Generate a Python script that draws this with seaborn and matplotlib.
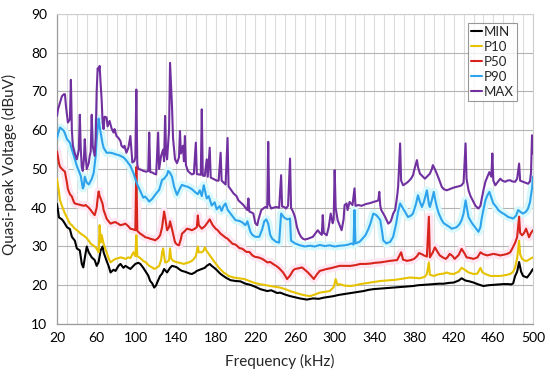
import matplotlib
matplotlib.use("Agg")
import matplotlib.pyplot as plt
import seaborn as sns
import pandas as pd
from matplotlib.ticker import MultipleLocator

# ---------------- data ----------------
MIN_F = [20, 22, 25, 27, 30, 33, 35, 38, 40, 43,
         45, 46.5, 48, 50, 52, 55, 58, 60, 62, 64,
         66, 67, 70, 72, 74, 77, 79, 82, 84, 87,
         89, 92, 94, 97, 99, 102, 104, 107, 109, 112,
         114, 116, 118, 120, 121, 124, 126, 128, 131, 134,
         136, 139, 141, 144, 146, 149, 151, 154, 156, 159,
         161, 164, 166, 169, 171, 174, 176, 178, 180, 185,
         190, 195, 200, 205, 210, 215, 220, 225, 232, 236,
         242, 245, 250, 255, 260, 265, 272, 278, 284, 289,
         294, 299, 304, 309, 314, 319, 324, 329, 334, 339,
         344, 349, 354, 359, 364, 369, 374, 379, 384, 390,
         395, 400, 405, 410, 415, 420, 425, 428, 432, 436,
         440, 445, 450, 455, 460, 465, 470, 475, 478, 480,
         482, 484, 486, 488, 490, 494, 497, 500]
MIN_V = [41, 37.5, 37, 36.3, 35, 34.5, 32.5, 31.5, 29.5, 29,
         25.5, 24.6, 27, 30, 28.5, 27.2, 26.5, 25, 26, 29,
         30, 28.5, 26.3, 25, 23.3, 24, 23.7, 25, 25.5, 24.5,
         25, 24.5, 24.2, 25, 25.5, 25.8, 25.5, 24.5, 23.7, 22.5,
         21.1, 20.5, 19.4, 20, 20.7, 22.4, 23, 24.2, 23.3, 24.5,
         25, 24.8, 24.6, 24, 23.7, 23.5, 23.3, 23, 22.9, 23.3,
         23.7, 24, 24.2, 24.5, 25, 25.5, 25, 24.6, 24.2, 22.9,
         22, 21.3, 21.1, 21, 20.4, 20.1, 19.6, 19, 18.5, 18.7,
         18, 18.1, 17.6, 17.2, 16.9, 16.6, 16.3, 16.6, 16.5, 16.8,
         17, 17.2, 17.5, 17.7, 17.9, 18.1, 18.3, 18.5, 18.8, 19,
         19.1, 19.2, 19.3, 19.4, 19.5, 19.6, 19.7, 19.8, 20, 20.1,
         20.2, 20.3, 20.4, 20.4, 20.6, 20.7, 21.2, 21.8, 21.2, 21,
         20.7, 20.2, 19.8, 20, 20.1, 20.2, 20.3, 20.3, 20.2, 20.5,
         22.4, 23.5, 26, 23.5, 22.4, 22, 23, 24.2]

P10_F = [20, 22, 23, 25, 28, 30, 33, 35, 38, 41,
         44, 47, 49, 52, 54, 57, 59, 61, 62, 63,
         64, 65, 67, 70, 72, 74, 77, 79, 82, 84,
         87, 89, 92, 94, 97, 99, 100, 101, 104, 107,
         110, 113, 116, 118, 121, 123, 125, 126, 127, 129,
         131, 133, 134, 135, 137, 140, 142, 145, 148, 150,
         153, 156, 158, 160, 162, 163, 166, 168, 169, 171,
         173, 176, 178, 181, 183, 186, 188, 191, 193, 198,
         203, 209, 214, 218, 224, 229, 235, 240, 245, 250,
         255, 260, 265, 270, 275, 280, 285, 290, 295, 299,
         301, 303, 305, 310, 316, 321, 326, 331, 336, 341,
         346, 351, 356, 361, 366, 371, 376, 381, 386, 391,
         393, 395, 396, 400, 403, 406, 410, 413, 416, 420,
         425, 428, 430, 435, 440, 444, 447, 449, 453, 457,
         462, 467, 472, 477, 480, 482, 484, 486, 487, 489,
         492, 494, 497, 500]
P10_V = [47.5, 44, 42, 40.5, 38.5, 37.5, 35.9, 35.5, 34.6, 34,
         33.3, 32.8, 32.4, 31.5, 30.7, 30.2, 29.8, 29, 28.5, 35.5,
         31, 33, 30.7, 28.5, 27, 25.9, 26.5, 26.8, 27, 27.2,
         27, 26.8, 27.2, 27, 28.5, 27.5, 32.9, 27.5, 27, 26.3,
         25.8, 25, 24.6, 24.2, 24.6, 25, 26.5, 28.5, 29.5, 25.9,
         26, 26.5, 29.5, 27, 26.3, 26, 25.9, 25.7, 25.5, 25.7,
         25.9, 26.3, 26.8, 27.5, 30, 28.5, 28.5, 29, 29.8, 28.8,
         28.1, 27, 26.3, 25.3, 24.6, 23.8, 23.3, 22.8, 22.4, 22,
         21.8, 21.6, 21.1, 20.7, 20.3, 20.1, 19.8, 19.6, 19.4, 19,
         18.5, 18.1, 17.7, 17.4, 17.2, 17.6, 18.1, 18.3, 18.5, 19.5,
         21.6, 20, 20.3, 19.9, 19.8, 20, 20.3, 20.5, 20.7, 20.9,
         21.1, 21.2, 21.3, 21.4, 21.6, 21.8, 22, 21.9, 21.8, 22.2,
         22.9, 25.9, 22.7, 22.4, 22.7, 22.9, 23, 23.3, 23, 22.9,
         23.5, 24.5, 24.2, 23.3, 22.9, 23, 24.5, 23.3, 22.8, 22.4,
         22.4, 22.4, 22.6, 22.9, 23.5, 24.6, 27, 31.5, 28, 26.8,
         26.3, 26.3, 26.8, 27.2]

P50_F = [20, 22, 23, 25, 28, 30, 31, 33, 35, 37,
         38, 41, 44, 47, 49, 52, 54, 56, 58, 60,
         61, 62, 63, 64, 66, 67, 69, 70, 72, 74,
         77, 79, 82, 84, 87, 89, 92, 94, 97, 99,
         100, 101, 104, 107, 109, 112, 114, 117, 119, 122,
         124, 126, 128, 129, 131, 133, 134, 136, 139, 141,
         143, 145, 146, 149, 151, 154, 156, 159, 161, 162,
         163, 166, 169, 171, 174, 177, 180, 182, 185, 187,
         190, 192, 195, 197, 200, 204, 207, 211, 214, 217,
         220, 223, 227, 230, 232, 235, 239, 241, 244, 248,
         250, 252, 255, 258, 260, 264, 267, 270, 273, 276,
         279, 282, 285, 289, 292, 296, 299, 302, 305, 310,
         316, 321, 326, 331, 336, 341, 346, 351, 356, 360,
         363, 367, 369, 373, 377, 380, 383, 385, 388, 390,
         393, 395, 396, 399, 401, 404, 406, 409, 412, 414,
         416, 419, 421, 425, 428, 431, 433, 437, 440, 444,
         447, 450, 454, 457, 460, 464, 467, 471, 474, 477,
         479, 482, 484, 486, 487, 489, 491, 493, 496, 498,
         500]
P50_V = [54.5, 51.5, 50.6, 50, 49.3, 46.5, 44.8, 43.5, 42.9, 41.5,
         41.1, 40.9, 40.7, 40.5, 40.7, 40, 39.4, 38.7, 38.1, 40,
         42.4, 44.2, 43, 42.4, 41, 39.4, 38, 37.2, 36.5, 35.9,
         36.2, 36.3, 35.8, 35.5, 35.7, 35.9, 35.2, 34.6, 34.4, 34.2,
         50.5, 34, 33.3, 32.8, 32.4, 32.2, 32, 31.8, 31.6, 32.2,
         32.9, 35, 39, 37.7, 34.2, 35, 36.5, 34.5, 31.1, 30.5,
         30.3, 32, 33.3, 34, 34.6, 34.4, 34.2, 34.6, 35, 38,
         35.5, 34.6, 35.2, 35.9, 37, 35.5, 34.6, 34.2, 33.3, 32.9,
         32.3, 32, 31.2, 30.7, 30.5, 29.6, 29.4, 28.6, 28.6, 27.7,
         27.3, 27.2, 26.8, 26.3, 25.9, 26, 25.3, 25, 24.4, 23.3,
         22.5, 21.6, 22.5, 23.8, 24.2, 24.4, 24.6, 24, 23.3, 22.5,
         21.6, 22.8, 23.7, 24, 24.2, 24.4, 24.6, 24.8, 25, 25,
         25, 25.2, 25.5, 25.5, 25.6, 25.8, 25.9, 26.1, 26.3, 26.4,
         26.5, 28.5, 26.6, 26.3, 26.5, 26.8, 27.5, 28.3, 28, 27.7,
         27.4, 37.7, 27.2, 28.5, 29.8, 28.5, 27.7, 27.2, 26.8, 27.3,
         28.1, 27.5, 26.8, 27.8, 29.4, 28.2, 27.2, 27, 26.8, 27.2,
         28.5, 28, 27.7, 27.9, 28.1, 27.9, 27.7, 27.9, 28.1, 28.5,
         29.4, 31, 32.4, 37.7, 33.5, 32.9, 33.5, 34.6, 32.4, 33.5,
         34.2]

P90_F = [20, 21, 23, 25, 27, 29, 30, 33, 35, 37,
         40, 42, 44, 46, 47, 48, 50, 52, 55, 57,
         59, 60, 62, 63, 64, 66, 67, 70, 74, 77,
         79, 82, 84, 87, 89, 92, 94, 97, 99, 101,
         104, 107, 109, 113, 116, 118, 121, 123, 126, 128,
         131, 132, 134, 136, 138, 141, 144, 146, 149, 152,
         156, 159, 162, 164, 166, 168, 171, 173, 176, 179,
         181, 184, 186, 188, 190, 192, 195, 197, 200, 204,
         207, 210, 212, 215, 217, 220, 224, 227, 229, 231,
         233, 235, 237, 241, 244, 246, 249, 252, 255, 256,
         260, 265, 270, 275, 280, 285, 290, 295, 300, 305,
         310, 314, 317, 319, 320, 321, 325, 328, 331, 334,
         336, 339, 342, 344, 346, 348, 349, 352, 356, 359,
         362, 364, 366, 369, 372, 374, 377, 379, 382, 384,
         386, 388, 390, 393, 395, 396, 398, 400, 401, 403,
         405, 408, 410, 413, 416, 418, 421, 423, 426, 428,
         430, 432, 434, 435, 438, 440, 443, 445, 447, 448,
         450, 452, 454, 456, 458, 460, 463, 465, 468, 470,
         473, 475, 478, 480, 483, 485, 488, 490, 493, 495,
         497, 499, 500]
P90_V = [58, 59, 60.7, 60.3, 59.8, 58.5, 57.7, 56.8, 55, 53.4,
         50.8, 49.5, 48.2, 45, 45.5, 48, 46.5, 46, 47.4, 49,
         53.4, 57.7, 63, 61, 59.4, 56.5, 55.5, 54.2, 54.2, 54,
         53.8, 53.6, 53.4, 53, 52.5, 51.5, 50.8, 49, 47.4, 46,
         44.3, 42.6, 42.9, 41.6, 42.3, 43, 44, 44.6, 47.2, 47.5,
         48.5, 49.5, 49, 48, 45.5, 43.3, 45, 45.9, 45.6, 45.4,
         44.8, 44.1, 43.5, 44.5, 43, 45.8, 42.4, 43, 40.6, 41.4,
         39.6, 40.4, 39.2, 40.5, 41.1, 39.5, 38.5, 37.8, 36.8, 36.6,
         36.2, 35.5, 36.5, 33.8, 33, 32.5, 32.5, 34.5, 36.5, 37,
         35.9, 33, 32, 31.2, 31, 38.5, 37.5, 37, 37.2, 31.5,
         30.8, 30.3, 30, 30.2, 30, 30.4, 30.1, 30.3, 30, 30.2,
         30.3, 30.5, 30.8, 30.5, 39.4, 30.8, 31.2, 32, 32.9, 34.5,
         35.9, 38.5, 38.1, 37.5, 36.8, 33.5, 31.6, 30.8, 31.2, 32.5,
         35.9, 39, 41.1, 39.8, 38.5, 37.6, 38, 38.5, 41, 43.2,
         41.5, 40.2, 41.5, 44.5, 41, 40.2, 42, 44.1, 42.5, 40.2,
         38.5, 36.8, 36, 35.5, 35, 34.6, 34.8, 35, 35.8, 36.8,
         38.5, 41.9, 39, 37.6, 36.2, 35.5, 34.5, 33.8, 35, 36.8,
         39.5, 41.9, 43.2, 44.1, 42.6, 41.1, 40.2, 39.4, 38.8, 38.5,
         38, 37.6, 37.4, 37.2, 38, 39.4, 38.8, 38.5, 39, 39.8,
         41.5, 45, 48]

MAX_F = [20, 21, 23, 25, 27, 28, 29, 31, 33, 34,
         35, 36, 38, 40, 42, 43, 44, 45, 46, 47,
         48, 49, 50, 52, 53, 54, 55, 56, 58, 59,
         60, 61, 62, 63, 64, 65, 66, 67, 68, 70,
         71, 73, 75, 77, 78, 80, 82, 84, 85, 87,
         88, 90, 92, 94, 95, 96, 98, 99, 100, 101,
         102, 105, 107, 110, 112, 113, 114, 116, 118, 120,
         122, 123, 125, 127, 128, 129, 130, 131, 133, 134,
         135, 136, 137, 139, 141, 143, 144, 145, 147, 148,
         149, 150, 152, 154, 156, 158, 160, 161, 163, 165,
         166, 167, 169, 171, 172, 174, 175, 178, 181, 183,
         185, 186, 188, 190, 192, 193, 195, 198, 201, 203,
         206, 208, 210, 212, 213, 214, 216, 218, 220, 222,
         223, 225, 226, 228, 230, 232, 233, 234, 236, 238,
         241, 244, 246, 247, 249, 251, 253, 255, 256, 258,
         260, 262, 264, 266, 268, 270, 273, 276, 278, 281,
         283, 285, 287, 288, 289, 292, 294, 296, 298, 299,
         300, 301, 303, 305, 307, 309, 310, 312, 313, 315,
         318, 320, 321, 324, 327, 329, 332, 334, 337, 339,
         342, 344, 345, 346, 347, 349, 351, 353, 354, 356,
         357, 359, 361, 363, 364, 366, 367, 369, 372, 374,
         377, 379, 381, 383, 384, 386, 389, 391, 393, 396,
         398, 399, 401, 403, 405, 408, 410, 413, 415, 418,
         420, 423, 426, 428, 430, 432, 433, 435, 437, 440,
         442, 445, 447, 448, 450, 452, 454, 456, 458, 459,
         460, 462, 464, 467, 469, 472, 474, 477, 479, 482,
         484, 486, 487, 490, 492, 495, 497, 498, 499, 500]
MAX_V = [63.7, 65.4, 67.1, 68.8, 69.3, 69.3, 66.3, 62, 62.8, 73,
         60, 56, 54, 52.5, 55, 64, 55, 50.5, 49.5, 52,
         57.7, 53, 50, 51.5, 53.4, 54.5, 64, 56, 53.4, 58,
         70, 76, 75.5, 76.6, 72, 68, 62, 60.3, 63.5, 63.3,
         61, 62.4, 60.5, 59.4, 60.3, 58.5, 58, 57.2, 56, 55.5,
         56, 54.2, 55.5, 58.5, 55, 51.7, 52, 53, 70.5, 51,
         50, 49.8, 49.5, 49.3, 49.5, 59.4, 49.2, 49.1, 48.8, 48.6,
         59.4, 50, 53.4, 55, 52, 63.7, 54, 52.5, 60, 77.4,
         72, 66, 58, 52.5, 51.5, 53, 59.8, 54, 56, 52,
         58.5, 51, 49.5, 49, 48.6, 48.8, 56.8, 48.7, 48.6, 48.5,
         65.4, 48.3, 48.2, 52.5, 48, 55.5, 47.8, 47.4, 47, 47,
         54.2, 47, 46.5, 46, 58, 45.5, 44.8, 43.7, 43, 41.9,
         41.2, 40.7, 40, 39.4, 42.4, 39, 38.8, 38.5, 36, 35.5,
         36.8, 38.5, 39.4, 39.8, 40.2, 40, 57, 41, 39.8, 40,
         40.2, 40, 48.4, 40.3, 40.2, 39.8, 40.5, 52.7, 40, 39,
         37.6, 35, 33.5, 32.5, 32, 31.8, 32, 32.3, 32.5, 33.5,
         34.2, 33.5, 33, 38.1, 33.5, 32.9, 35, 38.5, 36, 37,
         49.7, 40, 36.8, 35.5, 34.2, 37, 40.7, 41.1, 39.4, 41.5,
         40.7, 45, 40.5, 40.7, 40.5, 40.7, 41, 41.1, 41.3, 41.5,
         41.7, 41.9, 44.1, 40.5, 39.4, 38.5, 37.6, 36.5, 35.9, 36.3,
         36.8, 38.5, 39.4, 43, 45.4, 56.6, 47, 45.8, 46.3, 46.7,
         47.5, 48.4, 50.5, 52.3, 50.5, 48.8, 48, 47.5, 48, 48.8,
         50, 51, 50, 48.8, 47.5, 45.4, 44.8, 44.5, 44.7, 45,
         45.2, 45.4, 45.6, 45.8, 46.5, 56.6, 47.5, 44.5, 43, 41.5,
         40.5, 39.8, 40.5, 41.9, 44.5, 46.7, 48, 49.2, 48, 54,
         47, 45.8, 46.5, 47.5, 47, 46.7, 47, 47.1, 46.8, 46.7,
         47.5, 51.4, 47, 46.7, 46.5, 46.2, 46.8, 49, 58.7, 54]

SERIES = ["MIN", "P10", "P50", "P90", "MAX"]
COLORS = ["#000000", "#e6c200", "#d8241c", "#2ea3ec", "#7030a0"]
X_TICKS = [20, 60, 100, 140, 180, 220, 260, 300, 340, 380, 420, 460, 500]
Y_TICKS = [10, 20, 30, 40, 50, 60, 70, 80, 90]

# ---------------- figure ----------------
sns.set_theme(style="white")
plt.rcParams["font.family"] = ["Lato", "DejaVu Sans"]

fig = plt.figure(figsize=(5.5, 3.76), dpi=100)
ax = fig.add_axes([57 / 550, 1 - 324 / 376, 476 / 550, 310 / 376])

data = {
    "MIN": (MIN_F, MIN_V),
    "P10": (P10_F, P10_V),
    "P50": (P50_F, P50_V),
    "P90": (P90_F, P90_V),
    "MAX": (MAX_F, MAX_V),
}

# pale glow bands behind P50 / P90
glow = {"P50": "#fde6f1", "P90": "#d8f8fb"}
for name, gcol in glow.items():
    f, v = data[name]
    sns.lineplot(x=f, y=v, ax=ax, color=gcol, linewidth=6, sort=False,
                 estimator=None, zorder=1, legend=False)

for name, col in zip(SERIES, COLORS):
    f, v = data[name]
    df = pd.DataFrame({"Frequency": f, "Value": v})
    sns.lineplot(data=df, x="Frequency", y="Value", ax=ax, color=col,
                 linewidth=1.5, sort=False, estimator=None, label=name,
                 zorder=3)

ax.set_xlim(20, 500)
ax.set_ylim(10, 90)
ax.set_xticks(X_TICKS)
ax.set_yticks(Y_TICKS)
ax.xaxis.set_minor_locator(MultipleLocator(10))
ax.grid(which="major", axis="y", color="#b4b4b4", linewidth=0.8)
ax.grid(which="both", axis="x", color="#dcdcdc", linewidth=0.8)
ax.set_axisbelow(True)
ax.tick_params(axis="both", which="both", length=0, labelsize=10,
               colors="#000000")
ax.tick_params(axis="y", pad=7)
ax.tick_params(axis="x", pad=6)
for side in ["left", "bottom"]:
    ax.spines[side].set_color("#9a9a9a")
    ax.spines[side].set_linewidth(0.9)
for side in ["top", "right"]:
    ax.spines[side].set_color("#cfcfcf")
    ax.spines[side].set_linewidth(0.8)

ax.set_xlabel("Frequency (kHz)", fontsize=11)
ax.set_ylabel("Quasi-peak Voltage (dBuV)", fontsize=11)
ax.xaxis.set_label_coords((280 - 57) / 476, -0.095)
ax.yaxis.set_label_coords(-0.083, 0.515)

leg = ax.legend(loc="upper right", bbox_to_anchor=(0.967, 0.972),
                frameon=True, fancybox=False, fontsize=9.5,
                handlelength=0.8, handletextpad=0.15, labelspacing=0.22,
                borderpad=0.25, borderaxespad=0.0)
leg.get_frame().set_edgecolor("#7f7f7f")
leg.get_frame().set_linewidth(0.8)
for line in leg.get_lines():
    line.set_linewidth(1.5)

fig.savefig("out.png", dpi=100)
